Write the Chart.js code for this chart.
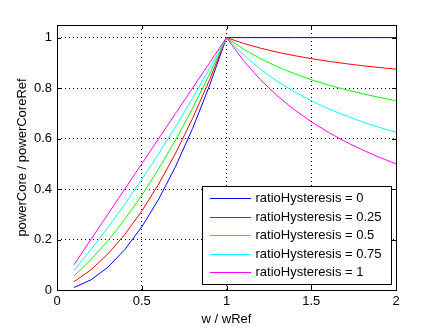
<!DOCTYPE html>
<html>
<head>
<meta charset="utf-8">
<script src="https://cdn.jsdelivr.net/npm/chart.js@4/dist/chart.umd.min.js"></script>
<style>
  html, body { margin: 0; padding: 0; background: #fff; }
  canvas { display: block; }
</style>
</head>
<body>
<canvas id="chart" width="438" height="329"></canvas>
<script>
// w / wRef sample points
const wValues = [0.1, 0.2, 0.3, 0.4, 0.5, 0.6, 0.7, 0.8, 0.9, 1.0,
                 1.1, 1.2, 1.3, 1.4, 1.5, 1.6, 1.7, 1.8, 1.9, 2.0];

// powerCore / powerCoreRef, one list per ratioHysteresis
const hyst0 = [0.01, 0.04, 0.09, 0.16, 0.25, 0.36, 0.49, 0.64, 0.81, 1,
               1, 1, 1, 1, 1, 1, 1, 1, 1, 1];
const hyst025 = [0.0325, 0.08, 0.1425, 0.22, 0.3125, 0.42, 0.5425, 0.68, 0.8325, 1,
                 0.9773, 0.9583, 0.9423, 0.9286, 0.9167, 0.9063, 0.8971, 0.8889, 0.8816, 0.875];
const hyst05 = [0.055, 0.12, 0.195, 0.28, 0.375, 0.48, 0.595, 0.72, 0.855, 1,
                0.9545, 0.9167, 0.8846, 0.8571, 0.8333, 0.8125, 0.7941, 0.7778, 0.7632, 0.75];
const hyst075 = [0.0775, 0.16, 0.2475, 0.34, 0.4375, 0.54, 0.6475, 0.76, 0.8775, 1,
                 0.9318, 0.875, 0.8269, 0.7857, 0.75, 0.7188, 0.6912, 0.6667, 0.6447, 0.625];
const hyst1 = [0.1, 0.2, 0.3, 0.4, 0.5, 0.6, 0.7, 0.8, 0.9, 1,
               0.9091, 0.8333, 0.7692, 0.7143, 0.6667, 0.625, 0.5882, 0.5556, 0.5263, 0.5];

const seriesLabels = ['ratioHysteresis = 0', 'ratioHysteresis = 0.25', 'ratioHysteresis = 0.5',
                      'ratioHysteresis = 0.75', 'ratioHysteresis = 1'];
const seriesColors = ['#0000ff', '#ff0000', '#00ff00', '#00ffff', '#ff00ff'];
const seriesValues = [hyst0, hyst025, hyst05, hyst075, hyst1];

const FONT = '"Liberation Sans", Arial, Helvetica, sans-serif';

const datasets = seriesValues.map((vals, i) => ({
    label: seriesLabels[i],
    data: vals.map((v, j) => ({ x: wValues[j], y: v })),
    borderColor: seriesColors[i],
    borderWidth: 1,
    pointRadius: 0,
    fill: false,
    tension: 0,
    order: 4 - i
}));

// box, inward tick marks and legend, MATLAB style
const matlabAxes = {
    id: 'matlabAxes',
    afterDatasetsDraw(chart) {
        const ctx = chart.ctx;
        const a = chart.chartArea;
        const xs = chart.scales.x;
        const ys = chart.scales.y;
        const tl = 4;
        ctx.save();
        ctx.strokeStyle = '#000';
        ctx.lineWidth = 1;
        ctx.beginPath();
        xs.ticks.forEach(t => {
            const px = Math.round(xs.getPixelForValue(t.value)) + 0.5;
            ctx.moveTo(px, a.bottom); ctx.lineTo(px, a.bottom - tl);
            ctx.moveTo(px, a.top); ctx.lineTo(px, a.top + tl);
        });
        ys.ticks.forEach(t => {
            const py = Math.round(ys.getPixelForValue(t.value)) + 0.5;
            ctx.moveTo(a.left, py); ctx.lineTo(a.left + tl, py);
            ctx.moveTo(a.right, py); ctx.lineTo(a.right - tl, py);
        });
        ctx.stroke();
        ctx.strokeRect(Math.round(a.left) + 0.5, Math.round(a.top) + 0.5,
                       Math.round(a.right - a.left), Math.round(a.bottom - a.top));

        // legend
        const lx = 202.5, ly = 186.5, lw = 189, lh = 98;
        ctx.fillStyle = '#fff';
        ctx.fillRect(lx, ly, lw, lh);
        ctx.strokeRect(lx, ly, lw, lh);
        ctx.font = '13px ' + FONT;
        ctx.textBaseline = 'middle';
        chart.data.datasets.forEach((ds, i) => {
            const y = Math.round(198 + i * 18.6) + 0.5;
            ctx.strokeStyle = ds.borderColor;
            ctx.beginPath();
            ctx.moveTo(210, y); ctx.lineTo(251, y);
            ctx.stroke();
            ctx.fillStyle = '#000';
            ctx.fillText(ds.label, 255.5, y);
        });
        ctx.restore();
    }
};

new Chart(document.getElementById('chart'), {
    type: 'line',
    data: { datasets: datasets },
    options: {
        responsive: false,
        animation: false,
        layout: { padding: { left: 0, top: 25, right: 42, bottom: 0 } },
        plugins: {
            legend: { display: false },
            tooltip: { enabled: false }
        },
        scales: {
            x: {
                type: 'linear',
                min: 0,
                max: 2,
                afterFit: scale => { scale.height = 39; },
                ticks: {
                    stepSize: 0.5,
                    includeBounds: false,
                    padding: 4,
                    color: '#000',
                    font: { family: FONT, size: 13 },
                    callback: v => String(v)
                },
                grid: { color: '#000', drawTicks: false },
                border: { display: false, dash: [1, 3] },
                title: {
                    display: true,
                    text: 'w / wRef',
                    color: '#000',
                    font: { family: FONT, size: 13 },
                    padding: { top: 2, bottom: 2 }
                }
            },
            y: {
                min: 0,
                max: 1.05,
                afterFit: scale => { scale.width = 57; },
                ticks: {
                    stepSize: 0.2,
                    includeBounds: false,
                    padding: 5,
                    color: '#000',
                    font: { family: FONT, size: 13 },
                    callback: v => String(Math.round(v * 10) / 10)
                },
                grid: { color: '#000', drawTicks: false },
                border: { display: false, dash: [1, 3] },
                title: {
                    display: true,
                    text: 'powerCore / powerCoreRef',
                    color: '#000',
                    font: { family: FONT, size: 13 },
                    padding: { top: 15, bottom: 2 }
                }
            }
        }
    },
    plugins: [matlabAxes]
});
</script>
</body>
</html>
